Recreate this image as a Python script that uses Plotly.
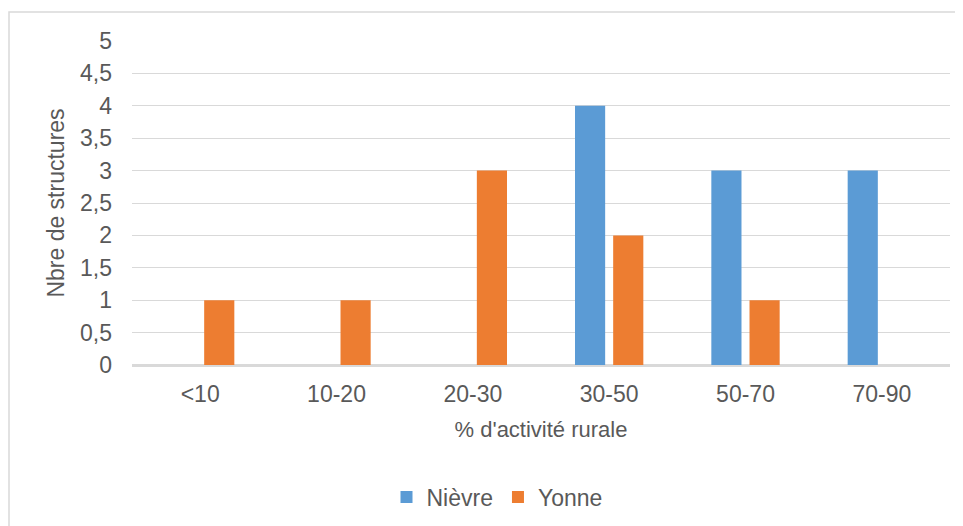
import plotly.graph_objects as go

categories = ["<10", "10-20", "20-30", "30-50", "50-70", "70-90"]
nievre = [0, 0, 0, 4, 3, 3]
yonne = [1, 1, 3, 2, 1, 0]
y_ticks = [0, 0.5, 1, 1.5, 2, 2.5, 3, 3.5, 4, 4.5, 5]
y_tick_labels = [str(v).replace(".", ",") if v % 1 else str(int(v)) for v in y_ticks]

TEXT = "#595959"
GRID = "#D9D9D9"
FONT = "Liberation Sans, Arial, sans-serif"
FS = 23

fig = go.Figure()
fig.add_trace(go.Bar(name="Nièvre", x=categories, y=nievre, marker_color="#5B9BD5",
                     marker_line_width=0))
fig.add_trace(go.Bar(name="Yonne", x=categories, y=yonne, marker_color="#ED7D31",
                     marker_line_width=0))

# page body adds an 8px offset; target screen positions are converted below
OFF = 8
W, H = 963, 526
L, T = 132 - OFF, 41 - OFF
R = W - (950 - OFF)
B = H - (365 - OFF)
pw, ph = W - L - R, H - T - B

def px_x(p):
    return (p - OFF - L) / pw

def px_y(p):
    return (H - B - (p - OFF)) / ph

fig.update_layout(
    width=W, height=H,
    margin=dict(l=L, r=R, t=T, b=B, autoexpand=False),
    paper_bgcolor="white", plot_bgcolor="white",
    barmode="group", bargap=0.44, bargroupgap=0.21,
    font=dict(family=FONT, size=FS, color=TEXT),
    showlegend=True,
    legend=dict(orientation="h", x=px_x(497), xanchor="center",
                y=px_y(497), yanchor="middle",
                font=dict(size=FS, color=TEXT), itemwidth=30,
                traceorder="normal"),
    xaxis=dict(
        type="category", showgrid=False, showline=True, linecolor=GRID, linewidth=1.5,
        ticks="", ticklabelstandoff=8, tickangle=0,
        title=dict(text="% d'activité rurale", standoff=15,
                   font=dict(size=22, color=TEXT)),
    ),
    yaxis=dict(
        range=[0, 5], tickvals=y_ticks, ticktext=y_tick_labels,
        showgrid=True, gridcolor=GRID, gridwidth=1,
        zeroline=True, zerolinecolor=GRID, zerolinewidth=1.5,
        showline=False, ticks="", ticklabelstandoff=19,
        title=dict(text="Nbre de structures", standoff=8,
                   font=dict(size=FS, color=TEXT)),
    ),
    shapes=[dict(type="rect", xref="paper", yref="paper",
                 x0=px_x(9), x1=px_x(1100), y0=px_y(12), y1=px_y(900),
                 line=dict(color=GRID, width=1.5), fillcolor="rgba(0,0,0,0)",
                 layer="below")],
)

fig.write_html("out.html")
